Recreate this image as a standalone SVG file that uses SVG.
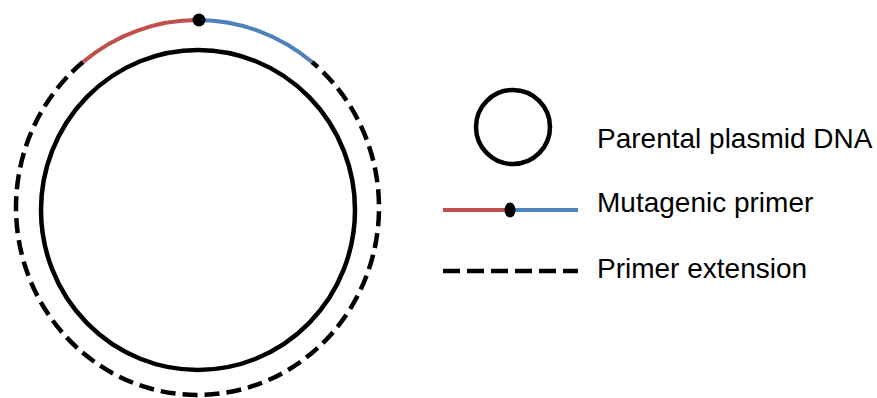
<svg xmlns="http://www.w3.org/2000/svg" width="877" height="398" viewBox="0 0 877 398">
<style>
.blk{fill:none;stroke:#000;stroke-width:4.5}
.dash{fill:none;stroke:#000;stroke-width:4.5;stroke-dasharray:15 7}
.red{fill:none;stroke:#C0504D;stroke-width:4}
.blue{fill:none;stroke:#4F81BD;stroke-width:4}
.lbl{font-family:"Liberation Sans",Arial,sans-serif;font-size:28px;fill:#000}
</style>
<rect width="877" height="398" fill="#fff"/>
<g id="plasmid">
<ellipse class="blk" cx="198" cy="210" rx="157" ry="160"/>
</g>
<g id="connectors">
<path class="dash" d="M 83 62 A 181.5 187.5 0 1 0 312 62"/>
<path class="red" d="M 83 62 A 181.5 187.5 0 0 1 199 20"/>
<path class="blue" d="M 199 20 A 181.5 187.5 0 0 1 312 62"/>
</g>
<g id="mutation-site">
<circle cx="199" cy="20" r="6.5" fill="#000"/>
</g>
<g id="legend-parental">
<ellipse class="blk" cx="513" cy="127" rx="37" ry="37"/>
<text class="lbl" x="597" y="148">Parental plasmid DNA</text>
</g>
<g id="legend-primer">
<line class="red" x1="443" y1="210" x2="510" y2="210"/>
<line class="blue" x1="510" y1="210" x2="578" y2="210"/>
<ellipse cx="510" cy="210" rx="5.5" ry="7.5" fill="#000"/>
<text class="lbl" x="597" y="212">Mutagenic primer</text>
</g>
<g id="legend-extension">
<line class="dash" x1="443" y1="271" x2="578" y2="271" style="stroke-dasharray:17 7"/>
<text class="lbl" x="597" y="278">Primer extension</text>
</g>
</svg>
